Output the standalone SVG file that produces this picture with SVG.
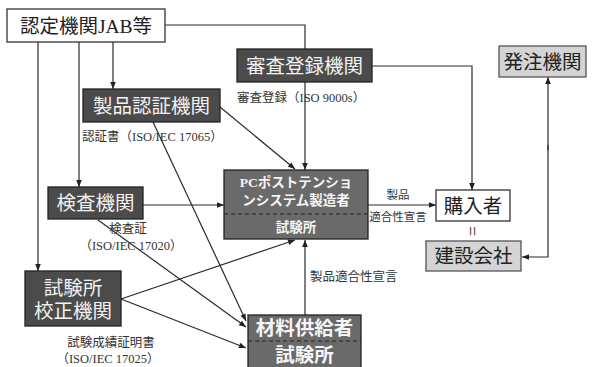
<svg xmlns="http://www.w3.org/2000/svg" width="593" height="367" viewBox="0 0 593 367">
<defs>
<marker id="ah" viewBox="0 0 10 10" refX="10" refY="5" markerWidth="8" markerHeight="7" orient="auto" markerUnits="userSpaceOnUse"><path d="M0,1 L10,5 L0,9 z" fill="#222"/></marker>
</defs>
<style>
text{font-family:"Liberation Serif","Noto Sans CJK JP",serif;}
.n{font-size:19.5px;text-anchor:middle;dominant-baseline:central;}
.wb{fill:#fff;stroke:#333;stroke-width:1.3;}
.db{fill:#4b4b4b;stroke:#222;stroke-width:1.3;}
.mb{fill:#6a6a6a;stroke:#222;stroke-width:1.3;}
.lb{fill:#d4d4d4;stroke:#555;stroke-width:1.3;}
.dt{fill:#f2f2f2;}
.bt{fill:#f5f5f5;font-weight:bold;}
.kt{fill:#222;}
.lab{font-size:12.5px;fill:#333;dominant-baseline:central;}
.c{fill:none;stroke:#2a2a2a;stroke-width:1.2;}
.ar{marker-end:url(#ah);}
.dash{stroke:#222;stroke-width:1.2;stroke-dasharray:4,3;}
</style>
<g id="connectors">
<path class="c" d="M165,25 H305 V49"/>
<path class="c ar" d="M305,82 V170"/>
<path class="c ar" d="M38,42 V271"/>
<path class="c ar" d="M79,42 V187"/>
<path class="c ar" d="M113,42 V89"/>
<path class="c ar" d="M372,66 H472 V190"/>
<path class="c ar" d="M548,150 V77"/>
<path class="c ar" d="M548,145 V257 H522"/>
<path class="c ar" d="M143,205 H224"/>
<path class="c ar" d="M368,205 H436"/>
<path class="c ar" d="M220,107 L295,169"/>
<path class="c ar" d="M153,122 L246,321"/>
<path class="c ar" d="M98,220 L246,327"/>
<path class="c ar" d="M121,299 L295,240"/>
<path class="c ar" d="M121,299 L246,348"/>
<path class="c ar" d="M305,315 V240"/>
</g>
<g id="labels">
<text class="lab" x="237" y="98">審査登録（ISO 9000s）</text>
<text class="lab" x="82" y="137">認証書（ISO/IEC 17065）</text>
<text class="lab" x="128" y="229" text-anchor="middle">検査証</text>
<text class="lab" x="131" y="246" text-anchor="middle">（ISO/IEC 17020）</text>
<text class="lab" x="111" y="343" text-anchor="middle">試験成績証明書</text>
<text class="lab" x="108" y="359" text-anchor="middle">（ISO/IEC 17025）</text>
<text class="lab" x="398" y="195" text-anchor="middle" style="font-size:11.5px">製品</text>
<text class="lab" x="398" y="217" text-anchor="middle" style="font-size:11.5px">適合性宣言</text>
<text class="lab" x="310" y="277">製品適合性宣言</text>
<text class="lab" x="472" y="231" text-anchor="middle" transform="rotate(90 472 231)" style="font-size:18px">=</text>
</g>
<g id="jab">
<rect class="wb" x="7" y="9" width="158" height="33"/>
<text class="n kt" x="86" y="26">認定機関JAB等</text>
</g>
<g id="shinsa">
<rect class="db" x="237" y="49" width="135" height="33"/>
<text class="n dt" x="304.5" y="66">審査登録機関</text>
</g>
<g id="hatchu">
<rect class="lb" x="499" y="46" width="87" height="31"/>
<text class="n kt" x="542.5" y="62">発注機関</text>
</g>
<g id="seihin">
<rect class="db" x="83" y="89" width="137" height="33"/>
<text class="n dt" x="151.5" y="106">製品認証機関</text>
</g>
<g id="kensa">
<rect class="db" x="48" y="187" width="95" height="32"/>
<text class="n dt" x="95.5" y="203.5">検査機関</text>
</g>
<g id="pc">
<rect class="mb" x="224" y="170" width="144" height="69"/>
<line class="dash" x1="224" y1="214" x2="368" y2="214"/>
<text class="bt" x="296" y="182" text-anchor="middle" dominant-baseline="central" font-size="13.5">PCポストテンショ</text>
<text class="bt" x="296" y="200" text-anchor="middle" dominant-baseline="central" font-size="13.5">ンシステム製造者</text>
<text class="bt" x="296" y="227" text-anchor="middle" dominant-baseline="central" font-size="13.5">試験所</text>
</g>
<g id="konyu">
<rect class="wb" x="436" y="190" width="74" height="31"/>
<text class="n kt" x="473" y="206">購入者</text>
</g>
<g id="kensetsu">
<rect class="lb" x="426" y="241" width="95" height="30"/>
<text class="n kt" x="473.5" y="256.5">建設会社</text>
</g>
<g id="kosei">
<rect class="db" x="25" y="271" width="96" height="55"/>
<text class="n dt" x="73" y="288">試験所</text>
<text class="n dt" x="73" y="311">校正機関</text>
</g>
<g id="zairyo">
<rect class="mb" x="248" y="315" width="113" height="58"/>
<line class="dash" x1="248" y1="341" x2="361" y2="341"/>
<text class="n bt" x="304.5" y="328">材料供給者</text>
<text class="n bt" x="304.5" y="355">試験所</text>
</g>
</svg>
